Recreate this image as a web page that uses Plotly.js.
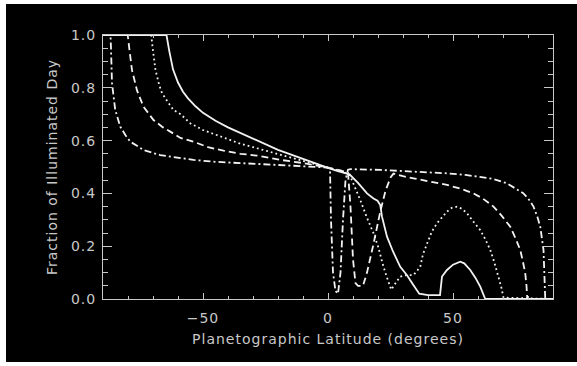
<!DOCTYPE html>
<html>
<head>
<meta charset="utf-8">
<script src="https://cdn.plot.ly/plotly-3.0.1.min.js"></script>
<style>
html,body{margin:0;padding:0;background:#ffffff;width:577px;height:366px;overflow:hidden;}
#chart{position:absolute;left:6px;top:4px;width:571px;height:358px;}
#chart text{letter-spacing:1px;}
</style>
</head>
<body>
<div id="chart"></div>
<script>
// Data
const solidLat  = [-90,-64.6,-63.5,-62,-60,-58,-56,-53,-50,-45,-40,-35,-30,-25,-20,-15,-10,-5,0,3.6,8.6,12,15.6,18.2,19.8,20.9,21.6,23.6,26,28.9,31.6,34,36.5,40,44.8,45.6,47.6,50,52.9,54.5,56.9,59,60.9,62.9,90];
const solidFrac = [1,1,0.94,0.87,0.82,0.785,0.76,0.73,0.705,0.675,0.65,0.628,0.607,0.585,0.565,0.548,0.53,0.513,0.497,0.485,0.472,0.44,0.40,0.381,0.372,0.356,0.312,0.236,0.18,0.122,0.09,0.055,0.02,0.015,0.015,0.085,0.11,0.13,0.141,0.135,0.11,0.08,0.047,0,0];

const dottedLat  = [-90,-70.7,-70,-69,-67.5,-66.4,-64,-61.8,-59,-55,-50,-45.8,-40,-35,-30,-25,-20,-15,-10,-5,0,5,8.6,10.5,12.9,15.5,18.2,20,22.2,24,25.3,27,28.9,31,34.2,35.5,36.9,38,39.6,41.5,43.6,45.5,47.6,49.5,51.6,53.5,55.6,58,60.9,63,64.9,66.5,68.2,69.3,70.2,90];
const dottedFrac = [1,1,0.94,0.867,0.81,0.78,0.745,0.716,0.70,0.665,0.64,0.625,0.605,0.588,0.575,0.562,0.55,0.538,0.525,0.512,0.498,0.485,0.472,0.43,0.375,0.31,0.249,0.2,0.122,0.07,0.035,0.06,0.085,0.09,0.091,0.105,0.122,0.17,0.211,0.255,0.287,0.31,0.331,0.345,0.35,0.342,0.325,0.295,0.261,0.225,0.186,0.14,0.085,0.045,0.005,0];

const dashedLat  = [-90,-80.1,-79.5,-78.4,-76.4,-73.8,-69.8,-66,-63.1,-59,-53.8,-48,-41.8,-35,-28.4,-19.1,-10,-5.8,0,5,8,9,10,11,12,14,15.6,18,20.9,23,25,26.2,30,34.2,40,47.6,53,58.2,62,66.2,69.5,72.9,75,76.9,78,78.9,79.4,79.7,90];
const dashedFrac = [1,1,0.95,0.867,0.79,0.728,0.678,0.65,0.634,0.61,0.596,0.575,0.562,0.55,0.543,0.527,0.515,0.508,0.498,0.487,0.478,0.35,0.15,0.06,0.05,0.05,0.1,0.2,0.33,0.41,0.46,0.475,0.465,0.457,0.447,0.432,0.418,0.40,0.38,0.35,0.315,0.274,0.23,0.186,0.14,0.097,0.05,0,0];

const dashdotLat  = [-90,-87,-86.8,-86.4,-85.1,-83.1,-81,-79.1,-76,-73.8,-67.1,-60,-53.8,-45.8,-32.4,-19.1,-5.8,0,0.8,1.2,2,3,4,5,6,7,8,9,20.9,35,47.6,55,60.9,66,71.6,75,78.2,80.5,82.2,83.8,84.9,86.2,86.5,86.9,90];
const dashdotFrac = [1,1,0.95,0.817,0.716,0.653,0.62,0.596,0.578,0.564,0.545,0.535,0.527,0.52,0.514,0.508,0.501,0.498,0.495,0.3,0.1,0.03,0.02,0.1,0.3,0.45,0.49,0.492,0.489,0.483,0.476,0.47,0.463,0.455,0.438,0.42,0.40,0.375,0.35,0.31,0.274,0.186,0.098,0,0];

const xTickVals = [-50,0,50];
const xTickText = ['\u221250','0','50'];
const yTickVals = [0,0.2,0.4,0.6,0.8,1.0];
const yTickText = ['0.0','0.2','0.4','0.6','0.8','1.0'];

const lineColor = '#f2f2f2';
const axisColor = '#c8c8c8';
const textColor = '#c8c8c8';

function tr(x, y, dash, w){
  return {x:x, y:y, type:'scatter', mode:'lines', hoverinfo:'skip',
          line:{color:lineColor, width:w, dash:dash}, showlegend:false};
}
const data = [
  tr(solidLat, solidFrac, 'solid', 1.8),
  tr(dottedLat, dottedFrac, '1.8px,3px', 1.8),
  tr(dashedLat, dashedFrac, '7px,4px', 1.8),
  tr(dashdotLat, dashdotFrac, '7px,3px,2px,3px', 1.8)
];

const fontFam = 'DejaVu Sans, sans-serif';
const layout = {
  width:571, height:358,
  paper_bgcolor:'#000000', plot_bgcolor:'#000000',
  margin:{l:97, r:24, t:31, b:63},
  showlegend:false,
  font:{family:fontFam, size:14, color:textColor},
  xaxis:{
    range:[-90,90], tickmode:'array', tickvals:xTickVals, ticktext:xTickText,
    ticks:'inside', ticklen:6, tickwidth:1, tickcolor:axisColor,
    minor:{dtick:10, ticks:'inside', ticklen:3, tickcolor:axisColor, tickwidth:1},
    showline:true, linecolor:axisColor, linewidth:1, mirror:'allticks',
    showgrid:false, zeroline:false, ticklabelstandoff:6,
    tickfont:{family:fontFam, size:14, color:textColor},
    title:{text:'Planetographic Latitude (degrees)', font:{family:fontFam, size:14, color:textColor}, standoff:9}
  },
  yaxis:{
    range:[0,1], tickmode:'array', tickvals:yTickVals, ticktext:yTickText,
    ticks:'inside', ticklen:9, tickwidth:1, tickcolor:axisColor,
    minor:{dtick:0.05, ticks:'inside', ticklen:5, tickcolor:axisColor, tickwidth:1},
    showline:true, linecolor:axisColor, linewidth:1, mirror:'allticks',
    showgrid:false, zeroline:false, ticklabelstandoff:3,
    tickfont:{family:fontFam, size:14, color:textColor},
    title:{text:'Fraction of Illuminated Day', font:{family:fontFam, size:14, color:textColor}, standoff:13}
  }
};
Plotly.newPlot('chart', data, layout, {displayModeBar:false, staticPlot:true});
</script>
</body>
</html>
